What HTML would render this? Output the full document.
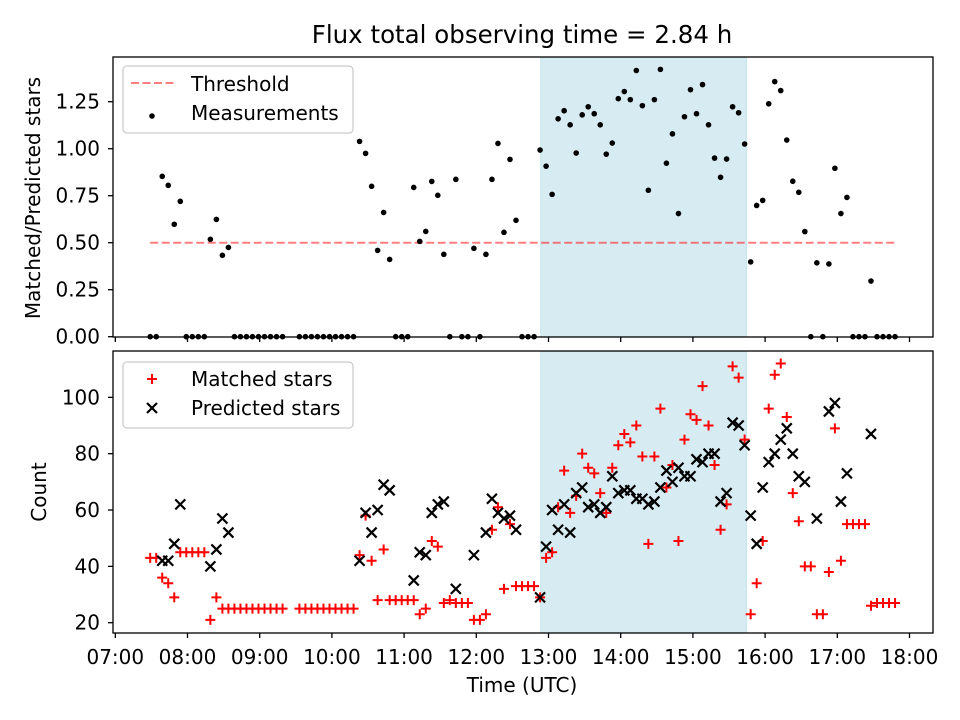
<!DOCTYPE html>
<html><head><meta charset="utf-8"><style>
html,body{margin:0;padding:0;background:#fff;}
svg{display:block;font-family:"DejaVu Sans","Liberation Sans",sans-serif;}
</style></head><body>
<svg id="chart" width="960" height="720" viewBox="0 0 960 720" xmlns="http://www.w3.org/2000/svg">
<rect x="0" y="0" width="960" height="720" fill="#fff"/>
<text x="522" y="43" font-size="24.5" text-anchor="middle" fill="#000">Flux total observing time = 2.84 h</text>
<text transform="translate(40,198) rotate(-90)" font-size="20" text-anchor="middle">Matched/Predicted stars</text>
<text transform="translate(46,492) rotate(-90)" font-size="20" text-anchor="middle">Count</text>
<text x="522" y="692" font-size="20" text-anchor="middle">Time (UTC)</text>
<g id="gTop"></g>
<g id="gBot"></g>
</svg>
<script>
// Data: time in minutes after midnight UTC
const times = [449,454,459,464,469,474,479,484,489,494,499,504,509,514,519,524,529,534,539,544,549,554,559,
573,578,583,588,593,598,603,608,613,618,623,628,633,638,643,648,653,658,663,668,673,678,683,688,693,698,703,708,713,718,723,728,733,738,743,748,753,758,763,768,
773,778,783,788,793,798,803,808,813,818,823,828,833,838,843,848,853,858,863,868,873,878,883,888,893,898,903,908,913,918,923,928,933,938,943,
948,953,958,963,968,973,978,983,988,993,998,1003,1008,1013,1018,1023,1028,1033,1038,1043,1048,1053,1058,1063,1068];
const ratios = [0,0,0.853,0.805,0.598,0.72,0,0,0,0,0.518,0.624,0.433,0.475,0,0,0,0,0,0,0,0,0,
0,0,0,0,0,0,0,0,0,0,1.039,0.975,0.80,0.459,0.661,0.411,0,0,0,0.794,0.507,0.56,0.826,0.752,0.438,0,0.837,0,0,0.47,0,0.438,0.837,1.028,0.555,0.943,0.619,0,0,0,
0.993,0.907,0.757,1.159,1.202,1.127,0.977,1.18,1.223,1.186,1.127,0.971,1.03,1.266,1.304,1.261,1.416,1.229,0.779,1.261,1.422,0.923,1.079,0.655,1.17,1.314,1.186,1.341,1.127,0.95,0.848,0.945,1.223,1.191,1.025,
0.398,0.698,0.725,1.239,1.357,1.309,1.046,0.827,0.768,0.559,0,0.393,0,0.387,0.896,0.655,0.741,0,0,0,0.296,0,0,0,0];
const matched = [43,43,36,34,29,45,45,45,45,45,21,29,25,25,25,25,25,25,25,25,25,25,25,
25,25,25,25,25,25,25,25,25,25,44,58,42,28,46,28,28,28,28,28,23,25,49,47,27,28,27,27,27,21,21,23,53,61,32,55,33,33,33,33,
29,43,45,61,74,59,65,80,75,73,66,59,75,83,87,84,90,79,48,79,96,68,76,49,85,94,92,104,90,76,53,62,111,107,85,
23,34,49,96,108,112,93,66,56,40,40,23,23,38,89,42,55,55,55,55,26,27,27,27,27];
const predicted = [null,null,42,42,48,62,null,null,null,null,40,46,57,52,null,null,null,null,null,null,null,null,null,
null,null,null,null,null,null,null,null,null,null,42,59,52,60,69,67,null,null,null,35,45,44,59,62,63,null,32,null,null,44,null,52,64,59,57,58,53,null,null,null,
29,47,60,53,62,52,66,68,61,62,59,61,72,66,67,67,64,64,62,63,68,74,70,75,72,72,78,77,80,80,63,66,91,90,83,
58,48,68,77,80,85,89,80,72,70,null,57,null,95,98,63,73,null,null,null,87,null,null,null,null];
const threshold = 0.5;
const shadeStart = 773.5, shadeEnd = 944.5;
const xTickLabels = ["07:00","08:00","09:00","10:00","11:00","12:00","13:00","14:00","15:00","16:00","17:00","18:00"];
const topTicks = [0,0.25,0.5,0.75,1.0,1.25];
const botTicks = [20,40,60,80,100];

const NS = "http://www.w3.org/2000/svg";
const L = 113, R = 933;
const FS = 20;
const xS = m => 115.3 + (m - 420) * 72.2 / 60;
const yTop = v => 336.7 - v * 188;
const yBot = v => 622.7 - (v - 20) * 2.817;
function mk(tag, attrs, parent) {
  const e = document.createElementNS(NS, tag);
  for (const k in attrs) e.setAttribute(k, attrs[k]);
  parent.appendChild(e);
  return e;
}
const gT = document.getElementById('gTop');
const gB = document.getElementById('gBot');
const shadeX0 = xS(shadeStart), shadeX1 = xS(shadeEnd);
function panel(g, y0, y1, pre) {
  const r = mk('rect', {x: shadeX0, y: y0, width: shadeX1 - shadeX0, height: y1 - y0, fill: '#add8e6', 'fill-opacity': 0.5, stroke: '#add8e6', 'stroke-opacity': 0.6}, g);
  
  
}
panel(gT, 57, 337, 'top');
panel(gB, 351, 633, 'bottom');

xTickLabels.forEach((lab, i) => {
  const x = xS(420 + i * 60);
  [[gT, 337], [gB, 633]].forEach(([g, yb]) => {
    const t = mk('line', {x1: x, x2: x, y1: yb, y2: yb + 5, stroke: '#000', 'stroke-width': 1.3}, g);
    
    
  });
  const tx = mk('text', {x: x, y: 664, 'font-size': FS, 'text-anchor': 'middle'}, gB);
  tx.textContent = lab;
  
  
});
topTicks.forEach(v => {
  const y = yTop(v);
  const t = mk('line', {x1: L - 5, x2: L, y1: y, y2: y, stroke: '#000', 'stroke-width': 1.3}, gT);
  
  
  const tx = mk('text', {x: L - 13, y: y + 7, 'font-size': FS, 'text-anchor': 'end'}, gT);
  tx.textContent = v.toFixed(2);
  
  
});
botTicks.forEach(v => {
  const y = yBot(v);
  const t = mk('line', {x1: L - 5, x2: L, y1: y, y2: y, stroke: '#000', 'stroke-width': 1.3}, gB);
  
  
  const tx = mk('text', {x: L - 13, y: y + 7, 'font-size': FS, 'text-anchor': 'end'}, gB);
  tx.textContent = String(v);
  
  
});

const th = mk('line', {x1: xS(times[0]), x2: xS(times[times.length - 1]), y1: yTop(threshold), y2: yTop(threshold), stroke: '#ff0000', 'stroke-opacity': 0.5, 'stroke-width': 2, 'stroke-dasharray': '8,3.5'}, gT);



times.forEach((m, i) => {
  const c = mk('circle', {cx: xS(m), cy: yTop(ratios[i]), r: 2.8, fill: '#000'}, gT);
  
  
});

times.forEach((m, i) => {
  const x = xS(m);
  const y = yBot(matched[i]);
  const p = mk('path', {d: `M${x-5},${y}H${x+5}M${x},${y-5}V${y+5}`, stroke: '#ff0000', 'stroke-width': 2, fill: 'none'}, gB);
  
  
});
times.forEach((m, i) => {
  if (predicted[i] === null) return;
  const x = xS(m);
  const y = yBot(predicted[i]);
  const p = mk('path', {d: `M${x-5},${y-5}L${x+5},${y+5}M${x-5},${y+5}L${x+5},${y-5}`, stroke: '#000', 'stroke-width': 2.2, fill: 'none'}, gB);
  
  
});

[[gT, 57, 337, 'top'], [gB, 351, 633, 'bottom']].forEach(([g, y0, y1, n]) => {
  const f = mk('rect', {x: L, y: y0, width: R - L, height: y1 - y0, fill: 'none', stroke: '#000', 'stroke-width': 1.3}, g);
  
  
});

function legendBox(g, y0, h, n) {
  const b = mk('rect', {x: 123, y: y0, width: 230, height: h, rx: 4, fill: '#fff', 'fill-opacity': 0.8, stroke: '#ccc', 'stroke-width': 1.3}, g);
  
  
}
legendBox(gT, 66, 67, 'top-legend');
const ls = mk('line', {x1: 131, x2: 174, y1: 83, y2: 83, stroke: '#ff0000', 'stroke-opacity': 0.5, 'stroke-width': 2, 'stroke-dasharray': '8,3.5'}, gT);


const lt1 = mk('text', {x: 191, y: 91, 'font-size': FS}, gT);
lt1.textContent = 'Threshold';


const ld = mk('circle', {cx: 152, cy: 116, r: 2.8, fill: '#000'}, gT);


const lt2 = mk('text', {x: 191, y: 120, 'font-size': FS}, gT);
lt2.textContent = 'Measurements';



legendBox(gB, 362, 66, 'bottom-legend');
const lp = mk('path', {d: 'M147,379H157M152,374V384', stroke: '#ff0000', 'stroke-width': 2}, gB);


const lt3 = mk('text', {x: 191, y: 386, 'font-size': FS}, gB);
lt3.textContent = 'Matched stars';


const lx = mk('path', {d: 'M147,403L157,413M147,413L157,403', stroke: '#000', 'stroke-width': 2.2}, gB);


const lt4 = mk('text', {x: 191, y: 415, 'font-size': FS}, gB);
lt4.textContent = 'Predicted stars';


</script>
</body></html>
